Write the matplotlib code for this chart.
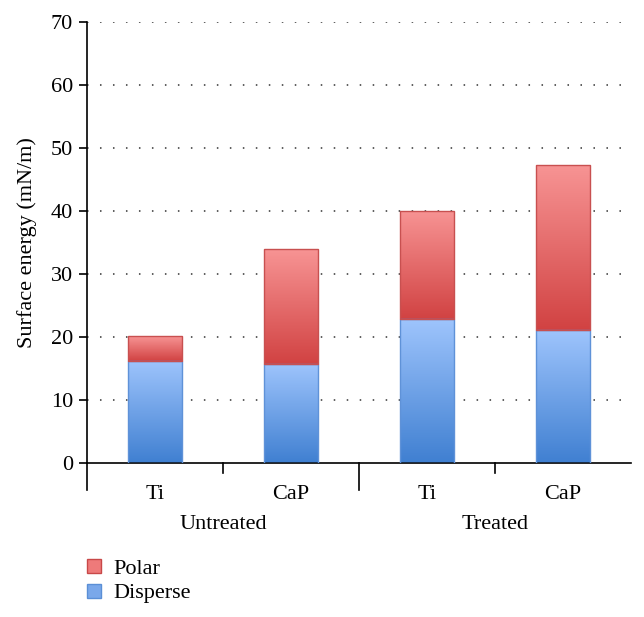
import numpy as np
import matplotlib.pyplot as plt
from matplotlib.patches import Patch
from matplotlib.transforms import blended_transform_factory

plt.rcParams['font.family'] = ['Liberation Serif', 'DejaVu Serif']

materials = ['Ti', 'CaP', 'Ti', 'CaP']
groups = ['Untreated', 'Treated']
disperse = [16.2, 15.8, 22.8, 21.1]
polar = [3.9, 18.2, 17.2, 26.2]

fs = 16

fig = plt.figure(figsize=(6.44, 6.17), dpi=100)
ax = fig.add_axes([0.135, 0.2496, 0.845, 0.7144])

x = np.arange(len(materials))
b1 = ax.bar(x, disperse, width=0.4, color='#6fa0e6', linewidth=0, zorder=2)
b2 = ax.bar(x, polar, width=0.4, bottom=disperse, color='#e86a6a', linewidth=0, zorder=2)

# vertical gradient inside each bar
def shade(bars, top, bottom):
    grad = np.linspace(0, 1, 256).reshape(-1, 1)
    c0 = np.array(top)
    c1 = np.array(bottom)
    img = c0 + (c1 - c0) * grad[..., None]
    img = img.reshape(256, 1, 3)
    for p in bars:
        x0, y0 = p.get_x(), p.get_y()
        w, h = p.get_width(), p.get_height()
        im = ax.imshow(img, extent=[x0, x0 + w, y0, y0 + h], origin='upper',
                       aspect='auto', zorder=2.5, interpolation='bilinear')
        im.set_clip_path(p)

shade(b1, (0.62, 0.77, 0.99), (0.25, 0.50, 0.82))
shade(b2, (0.97, 0.58, 0.58), (0.82, 0.26, 0.26))

# outlines on top of the gradients
ax.bar(x, disperse, width=0.4, fill=False, edgecolor='#5f92d8', linewidth=1.0, zorder=3)
ax.bar(x, polar, width=0.4, bottom=disperse, fill=False, edgecolor='#c85050', linewidth=1.0, zorder=3)

ax.set_xlim(-0.5, 3.5)
ax.set_ylim(0, 70)
ax.set_yticks(range(0, 71, 10))
ax.tick_params(axis='y', direction='out', length=6, width=1.2, labelsize=fs, pad=4)
ax.set_xticks(x)
ax.set_xticklabels(materials)
ax.tick_params(axis='x', length=0, labelsize=fs, pad=16)

for y in range(10, 71, 10):
    ax.axhline(y, color='#333333', linestyle=(0, (1, 7.5)), linewidth=1.1, zorder=1)

for s in ['top', 'right']:
    ax.spines[s].set_visible(False)
ax.spines['left'].set_linewidth(1.2)
ax.spines['bottom'].set_linewidth(1.2)

tr = blended_transform_factory(ax.transData, ax.transAxes)
ax.plot([-0.5, -0.5], [0, -0.061], transform=tr, color='black', lw=1.2, clip_on=False)
for xs, ln in [(0.5, -0.022), (1.5, -0.061), (2.5, -0.022)]:
    ax.plot([xs, xs], [0, ln], transform=tr, color='black', lw=1.2, clip_on=False)

for gx, g in zip([0.5, 2.5], groups):
    ax.text(gx, -0.14, g, transform=tr, ha='center', va='center', fontsize=fs)

ax.set_ylabel('Surface energy (mN/m)', fontsize=fs, labelpad=10)

handles = [Patch(facecolor='#ee7a7a', edgecolor='#c84848', label='Polar'),
           Patch(facecolor='#7aa8ea', edgecolor='#5b8fd6', label='Disperse')]
fig.legend(handles=handles, loc='upper left', bbox_to_anchor=(0.122, 0.108),
           frameon=False, fontsize=fs, handlelength=0.6, handleheight=0.6,
           handletextpad=0.55, labelspacing=0.2, borderaxespad=0)

fig.savefig('out.png', dpi=100)
